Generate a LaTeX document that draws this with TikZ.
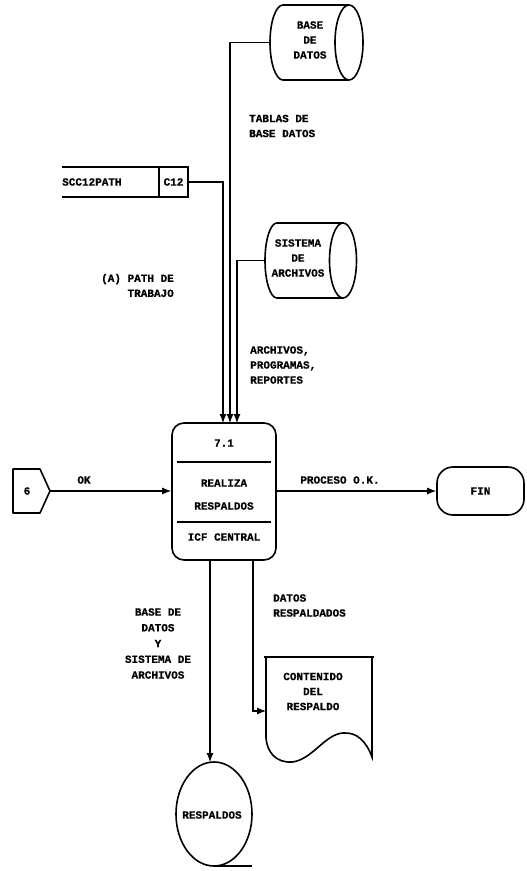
\documentclass[tikz,border=0pt]{standalone}
\usepackage{fontspec}
\setmonofont{Liberation Mono}[BoldFeatures={FakeBold=0.6}]
\usetikzlibrary{arrows.meta}
\tikzset{
  lbl/.style={font=\ttfamily\bfseries\fontsize{11}{15}\selectfont, inner sep=0pt},
  shp/.style={draw=black, line width=1.6pt},
  flow/.style={draw=black, line width=1.1pt},
  arr/.style={flow, -{Latex[length=9pt,width=7pt]}},
}
\begin{document}
\begin{tikzpicture}[x=1pt,y=-1pt]
\useasboundingbox (0,0) rectangle (527,871);
\fill[white] (0,0) rectangle (527,871);

% ---- cylinder: BASE DE DATOS
\draw[shp] (283,5) -- (349,5);
\draw[shp] (283,80) -- (349,80);
\draw[shp] (349,42.5) ellipse [x radius=14, y radius=37.5];
\draw[shp] (283,5) arc [start angle=-90, end angle=-270, x radius=13, y radius=37.5];
\coordinate (dbw) at (270,42.5);
\node[lbl, align=center] (dbt) at (310,40) {BASE\\DE\\DATOS};

% ---- cylinder: SISTEMA DE ARCHIVOS
\draw[shp] (277,223) -- (343,223);
\draw[shp] (277,298) -- (343,298);
\draw[shp] (343,260.5) ellipse [x radius=13.5, y radius=37.5];
\draw[shp] (277,223) arc [start angle=-90, end angle=-270, x radius=12, y radius=37.5];
\coordinate (saw) at (265,260.5);
\node[lbl, align=center] (sat) at (298,258) {SISTEMA\\DE\\ARCHIVOS};

% ---- data store SCC12PATH | C12
\draw[shp] (62,167) -- (188,167) -- (188,197) -- (62,197);
\draw[shp] (159,167) -- (159,197);
\node[lbl, anchor=west] (ds) at (62,182) {SCC12PATH};
\node[lbl] (dsid) at (173.5,182) {C12};
\coordinate (dse) at (188,182);

% ---- process box
\node[shp, rounded corners=12pt, minimum width=104pt, minimum height=137pt, inner sep=0pt] (proc) at (224,491.5) {};
\draw[line width=1.4pt] (177,462) -- (271,462);
\draw[line width=1.4pt] (177,522) -- (271,522);
\node[lbl] (pnum) at (224,443) {7.1};
\node[lbl] (pn1) at (224,483) {REALIZA};
\node[lbl] (pn2) at (224,506) {RESPALDOS};
\node[lbl] (ploc) at (224,537) {ICF CENTRAL};

% ---- off-page connector 6
\draw[shp, line join=round] (13,469) -- (40,469) -- (50,491) -- (40,513) -- (13,513) -- cycle;
\node[lbl] (c6) at (27,491) {6};
\coordinate (c6e) at (50,491);

% ---- terminal FIN
\node[shp, rounded corners=16pt, minimum width=87pt, minimum height=48pt, inner sep=0pt] (fin) at (480.5,491) {};
\node[lbl] (fint) at (480.5,491) {FIN};

% ---- document
\draw[shp] (266,738) -- (266,657);
\draw[draw=black, line width=2.4pt] (264,657) -- (374,657);
\draw[shp] (372,657) -- (372,757)
  .. controls (366,741) and (357,732) .. (343,733)
  .. controls (325,734) and (312,760) .. (292,762)
  .. controls (276,763) and (267,752) .. (266,738);
\node[lbl, align=center] (doct) at (313,691.5) {CONTENIDO\\DEL\\RESPALDO};
\coordinate (docw) at (266,711);

% ---- magnetic tape
\draw[shp] (214,814) ellipse [x radius=38, y radius=52];
\draw[shp] (214,866) -- (252,866);
\node[lbl] (tapet) at (212,815) {RESPALDOS};
\coordinate (tapen) at (210,762);

% ---- connectors into process
\draw[arr] (dbw) -- (230,42.5) -- (230,423);
\draw[arr] (dse) -- (223,182) -- (223,423);
\draw[arr] (saw) -- (237,260.5) -- (237,423);
\draw[arr] (c6e) -- (proc.west |- c6e);
\draw[arr] (proc.east |- c6e) -- (fin.west);
\draw[arr] (210,560) -- (tapen);
\draw[arr] (253,560) -- (253,711) -- (docw);

% ---- flow labels
\node[lbl, align=left, anchor=west] (l1) at (249,126) {TABLAS DE\\BASE DATOS};
\node[lbl, align=right, anchor=east] (l2) at (174,285.5) {(A) PATH DE\\TRABAJO};
\node[lbl, align=left, anchor=west] (l3) at (250,365) {ARCHIVOS,\\PROGRAMAS,\\REPORTES};
\node[lbl] (l4) at (84,480) {OK};
\node[lbl] (l5) at (340,480) {PROCESO O.K.};
\node[lbl, align=left, anchor=west] (l6) at (273,605.5) {DATOS\\RESPALDADOS};
\node[lbl, align=center, font=\ttfamily\bfseries\fontsize{11}{15.75}\selectfont] (l7) at (158,643.5) {BASE DE\\DATOS\\Y\\SISTEMA DE\\ARCHIVOS};
\end{tikzpicture}
\end{document}
